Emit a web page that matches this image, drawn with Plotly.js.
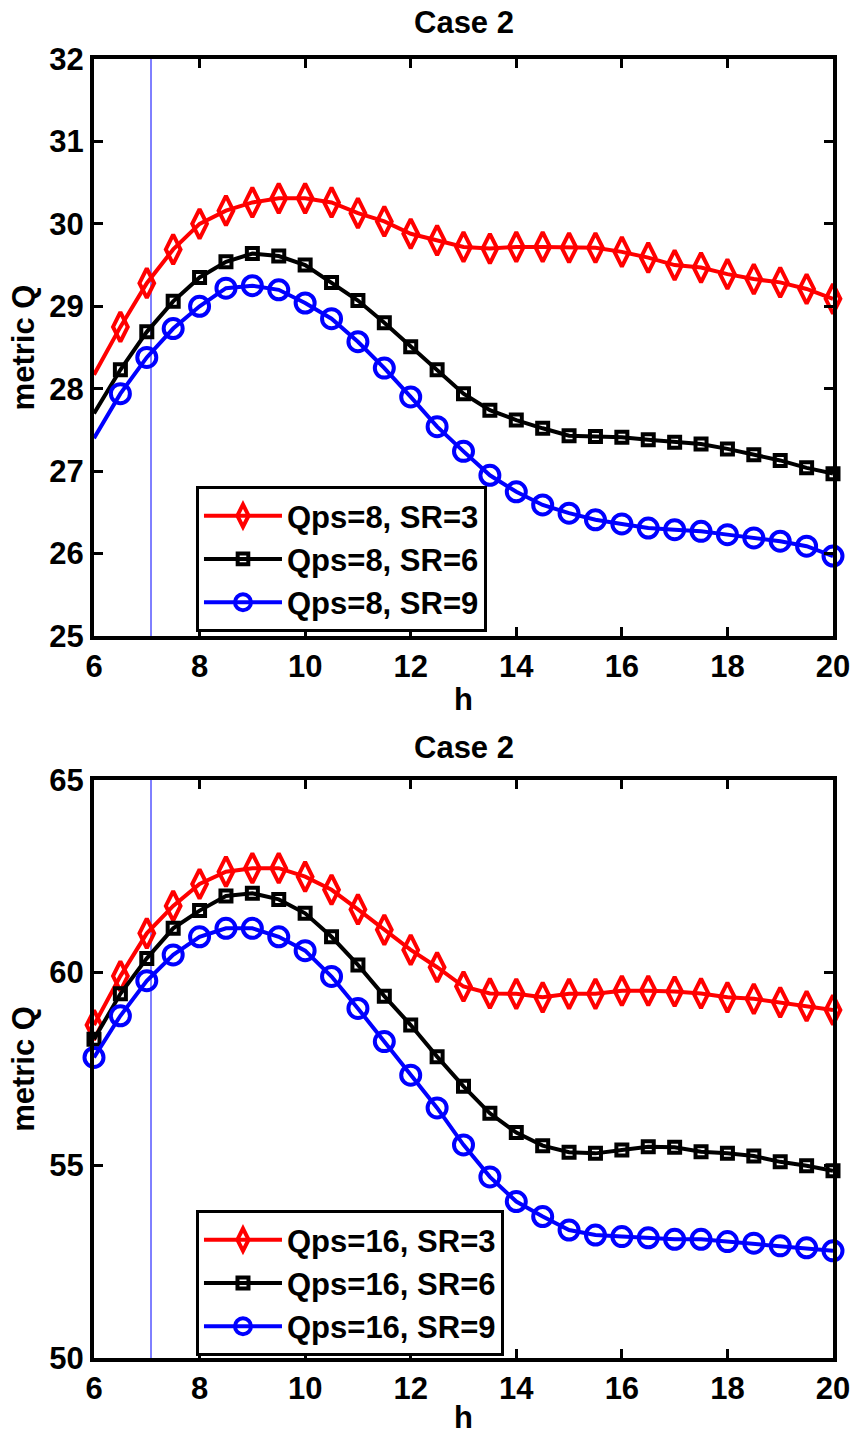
<!DOCTYPE html>
<html>
<head>
<meta charset="utf-8">
<script src="https://cdn.plot.ly/plotly-3.0.1.min.js"></script>
<style>html,body{margin:0;padding:0;background:#fff;}#chart{width:856px;height:1435px;}</style>
</head>
<body>
<div id="chart"></div>
<script>
// ---- data ----
const hValues = [6,6.5,7,7.5,8,8.5,9,9.5,10,10.5,11,11.5,12,12.5,13,13.5,14,14.5,15,15.5,16,16.5,17,17.5,18,18.5,19,19.5,20];

// Top panel (Qps = 8)
const top_SR3 = [28.17,28.75,29.28,29.69,30.00,30.16,30.26,30.31,30.31,30.26,30.13,30.03,29.88,29.80,29.72,29.70,29.72,29.72,29.71,29.71,29.66,29.59,29.50,29.47,29.39,29.33,29.29,29.21,29.09];
const top_SR6 = [27.70,28.23,28.69,29.06,29.35,29.54,29.64,29.61,29.50,29.29,29.07,28.80,28.51,28.23,27.94,27.74,27.62,27.52,27.43,27.42,27.41,27.38,27.35,27.33,27.27,27.20,27.13,27.04,26.97];
const top_SR9 = [27.40,27.94,28.38,28.73,29.00,29.22,29.25,29.20,29.04,28.85,28.57,28.25,27.90,27.54,27.24,26.95,26.75,26.59,26.49,26.41,26.36,26.31,26.29,26.27,26.23,26.19,26.15,26.09,25.97];

// Bottom panel (Qps = 16)
const bot_SR3 = [58.64,59.91,61.02,61.73,62.30,62.62,62.71,62.71,62.49,62.15,61.64,61.11,60.59,60.14,59.64,59.46,59.45,59.36,59.45,59.45,59.53,59.53,59.51,59.46,59.36,59.32,59.23,59.13,59.03];
const bot_SR6 = [58.27,59.45,60.37,61.15,61.61,61.99,62.06,61.90,61.54,60.93,60.20,59.39,58.64,57.82,57.05,56.35,55.85,55.51,55.34,55.31,55.40,55.48,55.47,55.35,55.31,55.24,55.09,54.99,54.86];
const bot_SR9 = [57.80,58.88,59.79,60.46,60.93,61.15,61.15,60.93,60.57,59.90,59.07,58.21,57.34,56.49,55.53,54.70,54.06,53.67,53.32,53.19,53.15,53.12,53.08,53.08,53.02,52.98,52.91,52.86,52.78];

const topNames = ["Qps=8, SR=3","Qps=8, SR=6","Qps=8, SR=9"];
const botNames = ["Qps=16, SR=3","Qps=16, SR=6","Qps=16, SR=9"];
const panelTitle = "Case 2";
const xLabel = "h";
const yLabel = "metric Q";
const xTicks = [6,8,10,12,14,16,18,20];
const yTicksTop = [25,26,27,28,29,30,31,32];
const yTicksBot = [50,55,60,65];
const vlineX = 7.08;

// ---- styles ----
const FONT = {family: "Arial, 'Liberation Sans', sans-serif", size: 31, color: "#000", weight: "bold"};
const styles = [
  {color: "#ff0000", symbol: "diamond-tall-open", size: 21},
  {color: "#000000", symbol: "square-open", size: 11},
  {color: "#0000ff", symbol: "circle-open", size: 19}
];

function mk(x, y, name, st, xa, ya, leg, hideFirst) {
  const sizes = x.map((v, i) => (hideFirst && i === 0) ? 0 : st.size);
  return {
    x: x, y: y, name: name, type: "scatter", mode: "lines+markers",
    xaxis: xa, yaxis: ya, legend: leg,
    line: {color: st.color, width: 4},
    marker: {symbol: st.symbol, size: sizes, color: st.color, opacity: 1, line: {color: st.color, width: 4}},
    cliponaxis: false
  };
}

const data = [
  mk(hValues, top_SR3, topNames[0], styles[0], "x", "y", "legend", true),
  mk(hValues, top_SR6, topNames[1], styles[1], "x", "y", "legend", true),
  mk(hValues, top_SR9, topNames[2], styles[2], "x", "y", "legend", true),
  mk(hValues, bot_SR3, botNames[0], styles[0], "x2", "y2", "legend2", false),
  mk(hValues, bot_SR6, botNames[1], styles[1], "x2", "y2", "legend2", false),
  mk(hValues, bot_SR9, botNames[2], styles[2], "x2", "y2", "legend2", false)
];

function xaxisCfg(anchor) {
  return {
    anchor: anchor, domain: [0, 1], range: [6, 20],
    tickvals: xTicks, ticks: "inside", ticklen: 9, tickwidth: 3, tickcolor: "#000",
    showline: true, linewidth: 4, linecolor: "#000", mirror: "ticks",
    showgrid: false, zeroline: false, tickfont: FONT,
    title: {text: xLabel, font: FONT, standoff: 6}, automargin: false
  };
}
function yaxisCfg(anchor, dom, rng, ticks) {
  return {
    anchor: anchor, domain: dom, range: rng,
    tickvals: ticks, ticks: "inside", ticklen: 9, tickwidth: 3, tickcolor: "#000",
    showline: true, linewidth: 4, linecolor: "#000", mirror: "ticks",
    showgrid: false, zeroline: false, tickfont: FONT,
    title: {text: yLabel, font: FONT, standoff: 6}, automargin: false
  };
}

const legendCfg = (y) => ({
  x: 0.138, y: y, xanchor: "left", yanchor: "top",
  bordercolor: "#000", borderwidth: 3, bgcolor: "#fff",
  font: FONT, tracegroupgap: 0, itemwidth: 78
});

const layout = {
  width: 856, height: 1435,
  margin: {l: 94, r: 23, t: 59, b: 77},
  paper_bgcolor: "#fff", plot_bgcolor: "#fff",
  showlegend: true,
  font: FONT,
  xaxis: xaxisCfg("y"),
  yaxis: yaxisCfg("x", [0.5558, 1], [25, 32], yTicksTop),
  xaxis2: xaxisCfg("y2"),
  yaxis2: yaxisCfg("x2", [0, 0.4450], [50, 65], yTicksBot),
  legend: legendCfg(0.6713),
  legend2: legendCfg(0.1139),
  shapes: [
    {type: "line", xref: "x", yref: "y domain", x0: vlineX, x1: vlineX, y0: 0, y1: 1, line: {color: "#0000ff", width: 1}, layer: "below"},
    {type: "line", xref: "x2", yref: "y2 domain", x0: vlineX, x1: vlineX, y0: 0, y1: 1, line: {color: "#0000ff", width: 1}, layer: "below"}
  ],
  annotations: [
    {text: panelTitle, xref: "x domain", yref: "y domain", x: 0.5, y: 1, yshift: 37, showarrow: false, font: FONT, xanchor: "center", yanchor: "middle"},
    {text: panelTitle, xref: "x2 domain", yref: "y2 domain", x: 0.5, y: 1, yshift: 32, showarrow: false, font: FONT, xanchor: "center", yanchor: "middle"}
  ]
};

Plotly.newPlot("chart", data, layout, {displayModeBar: false, staticPlot: true});
</script>
</body>
</html>
